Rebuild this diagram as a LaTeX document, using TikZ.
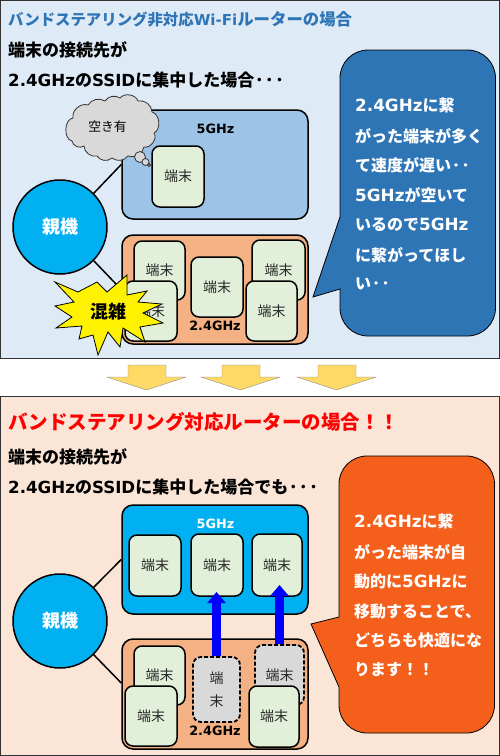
\documentclass[tikz,border=0pt]{standalone}
\usepackage{fontspec}
\setmainfont{Noto Sans CJK JP}
\newfontfamily\latf{DejaVu Sans}[Scale=1.05]
\newfontfamily\latg{DejaVu Sans}[Scale=0.98]
\newcommand{\Lt}[1]{{\latf\bfseries #1}}
\newcommand{\Ls}[1]{{\latg\bfseries #1}}
\newcommand{\fs}[1]{\fontsize{#1}{#1}\selectfont}
\newcommand{\dt}{\kern.8pt･\kern.8pt}
\definecolor{panelA}{HTML}{DEEAF6}
\definecolor{panelB}{HTML}{FBE5D6}
\definecolor{boxA}{HTML}{9DC3E6}
\definecolor{boxOr}{HTML}{F4B183}
\definecolor{sky}{HTML}{00B0F0}
\definecolor{termg}{HTML}{E2F0D9}
\definecolor{calloutA}{HTML}{2E75B6}
\definecolor{calloutB}{HTML}{F4601C}
\definecolor{gold}{HTML}{FFD966}
\definecolor{grayf}{HTML}{D9D9D9}
\tikzset{
  panel/.style={draw=black!80,line width=1pt,rectangle,inner sep=0},
  bandbox/.style={draw=black,line width=1.5pt,rounded corners=11pt,inner sep=0,minimum width=186pt,minimum height=109pt},
  term/.style={draw=black,line width=1.5pt,fill=termg,rounded corners=8pt,inner sep=0,font=\fs{14},text=black!85},
  dterm/.style={term,fill=grayf,line width=1.8pt,dash pattern=on 4pt off 2pt},
  parent/.style={circle,draw=black,line width=1.5pt,fill=sky,minimum size=94pt,inner sep=0,text=white,font=\fs{18}\bfseries},
  line1/.style={draw=black,line width=1.5pt},
  head/.style={anchor=west,inner sep=0,font=\fs{15.4}\bfseries},
  body/.style={anchor=west,inner sep=0,font=\fs{17}\bfseries,text=black},
  calltext/.style={anchor=west,inner sep=0,font=\fs{16}\bfseries,text=white},
  bandlabel/.style={inner sep=0,font=\fs{12.2}\bfseries},
  callout/.style={draw=black,line width=.8pt},
  downarrow/.style={draw=black!45,line width=.4pt,fill=gold},
  moveup/.style={draw=blue,line width=8.5pt,-{Triangle[length=11pt,width=18pt]}},
}
\usetikzlibrary{arrows.meta}
\begin{document}
\begin{tikzpicture}[x=1pt,y=-1pt]
\useasboundingbox (0,0) rectangle (500,756);
% panels
\node[panel,fill=panelA,minimum width=499pt,minimum height=358pt] (panelTop) at (250,179) {};
\node[panel,fill=panelB,minimum width=499pt,minimum height=359pt] (panelBot) at (250,576) {};
% top texts
\node[head,text=calloutA] (t1) at (8,19) {バンドステアリング非対応\Ls{Wi-Fi}{\fs{16.4}ルーターの場合}};
\node[body] (t2) at (8,50) {端末の接続先が};
\node[body] (t3) at (8,80) {\Ls{2.4GHz}の\Ls{SSID}に集中した場合\dt\dt\dt};
% top diagram
\node[parent] (parA) at (60,227) {親機};
\node[bandbox,fill=boxA] (b5a) at (215,164.5) {};
\node[bandbox,fill=boxOr] (b24a) at (215,289.5) {};
\draw[line1] (parA.45) -- (b5a.west);
\draw[line1] (parA.-45) -- (b24a.west);
\node[bandlabel,text=black] (l5a) at (215.5,129) {\Lt{5GHz}};
\node[term,minimum width=52pt,minimum height=61pt] (ta0) at (178,176.5) {端末};
\node[bandlabel,text=black] (l24a) at (215,326) {\Lt{2.4GHz}};
\node[term,minimum width=51pt,minimum height=59pt] (ta1) at (159.5,270.5) {端末};
\node[term,minimum width=52pt,minimum height=60pt] (ta3) at (217,287) {端末};
\node[term,minimum width=53pt,minimum height=60pt] (ta4) at (278.5,270) {端末};
\node[term,minimum width=52pt,minimum height=60pt] (ta2) at (151,311) {端末};
\node[term,minimum width=51pt,minimum height=60pt] (ta5) at (271.5,311) {端末};
% cloud
\draw[draw=black!80,line width=.8pt,fill=grayf] (73,118) to[bend left=60] (88,105) to[bend left=45] (105,101) to[bend left=45] (120,98) to[bend left=60] (138,101)
  to[bend left=50] (152,112) to[bend left=70] (154,133) to[bend left=70] (144,147) to[bend left=50] (128,156) to[bend left=45] (112,158) to[bend left=50] (97,156)
  to[bend left=50] (84,146) to[bend left=60] (72,141) to[bend left=80] (73,118) -- cycle;
\draw[draw=black!80,line width=.8pt,fill=grayf] (140,157) circle[radius=5.5pt];
\draw[draw=black!80,line width=.8pt,fill=grayf] (145.5,162) circle[radius=3.5pt];
\draw[draw=black!80,line width=.8pt,fill=grayf] (149,165) circle[radius=1.5pt];
\node[inner sep=0,font=\fs{12.8},text=black] (cloudt) at (107.5,127) {空き有};
% starburst
\draw[draw=black,line width=.8pt,fill=yellow] (55,282) -- (78,292) -- (97,282) -- (107,292) -- (127,275) -- (127,295) -- (147,291) -- (138,302)
 -- (162,304) -- (143,313) -- (163,323) -- (140,327) -- (145,342) -- (123,328) -- (120,347) -- (108,332) -- (98,355) -- (93,335) -- (79,339) -- (82,326)
 -- (56,328) -- (72,317) -- (55,306) -- (74,302) -- cycle;
\node[inner sep=0,font=\fs{18}\bfseries,text=black] (burst) at (108,312) {混雑};
% top callout
\draw[callout,fill=calloutA] (340,217) -- (313,297) -- (340,289) [rounded corners=28pt] -- (340,336) -- (495.5,336) -- (495.5,50) -- (340,50) [sharp corners] -- (340,100) -- cycle;
\node[calltext] (ca1) at (355,105.5) {\Lt{2.4GHz}に繋};
\node[calltext] (ca2) at (355,136.5) {がった端末が多く};
\node[calltext] (ca3) at (355,165.5) {て速度が遅い\dt\dt};
\node[calltext] (ca4) at (355,195) {\Lt{5GHz}が空いて};
\node[calltext] (ca5) at (355,224.5) {いるので\Lt{5GHz}};
\node[calltext] (ca6) at (355,255) {に繋がってほし};
\node[calltext] (ca7) at (355,284) {い\dt\dt};
% down arrows
\draw[downarrow] (128,365) -- (166,365) -- (166,377) -- (186,377) -- (146.5,390) -- (107,377) -- (128,377) -- cycle;
\draw[downarrow] (222,365) -- (260,365) -- (260,377) -- (280,377) -- (240.5,390) -- (201,377) -- (222,377) -- cycle;
\draw[downarrow] (318,365) -- (356,365) -- (356,377) -- (376,377) -- (336.5,390) -- (297,377) -- (318,377) -- cycle;
% bottom texts
\node[head,text=red,font=\fs{19.5}\bfseries] (u1) at (8,422) {バンドステアリング対応ルーターの場合！！};
\node[body] (u2) at (8,457) {端末の接続先が};
\node[body] (u3) at (8,487) {\Ls{2.4GHz}の\Ls{SSID}に集中した場合でも\dt\dt\dt};
% bottom diagram
\node[parent] (parB) at (60,621) {親機};
\node[bandbox,fill=sky] (b5b) at (215,559.5) {};
\node[bandbox,fill=boxOr,minimum height=110pt] (b24b) at (215,694) {};
\draw[line1] (parB.45) -- (b5b.west);
\draw[line1] (parB.-45) -- ([yshift=11pt]b24b.west);
\node[bandlabel,text=white] (l5b) at (215.5,524) {\Lt{5GHz}};
\node[term,minimum width=52pt,minimum height=61pt] (tb0) at (155,565.5) {端末};
\node[term,minimum width=52pt,minimum height=62pt] (tb1) at (217,565) {端末};
\node[term,minimum width=50pt,minimum height=62pt] (tb2) at (277,565) {端末};
\node[bandlabel,text=black] (l24b) at (215,731) {\Lt{2.4GHz}};
\node[term,minimum width=51pt,minimum height=59pt] (tb3) at (159.5,675.5) {端末};
\node[dterm,minimum width=47pt,minimum height=65pt,align=center,font=\fs{14}] (tb5) at (216.5,689.5) {端\\[9pt]末};
\node[dterm,minimum width=49pt,minimum height=60pt] (tb6) at (279.5,675) {端末};
\node[term,minimum width=52pt,minimum height=60pt] (tb4) at (151,716) {端末};
\node[term,minimum width=50pt,minimum height=61pt] (tb7) at (274,716.5) {端末};
\coordinate (tipA) at (216.5,592);
\coordinate (tipB) at (279.5,585);
\draw[moveup] (tb5.north) -- (tipA);
\draw[moveup] (tb6.north) -- (tipB);
% bottom callout
\draw[callout,fill=calloutB] (339,617) -- (311,624) -- (339,687) [rounded corners=28pt] -- (339,733) -- (494.5,733) -- (494.5,456) -- (339,456) [sharp corners] -- (339,500) -- cycle;
\node[calltext] (cb1) at (354,521) {\Lt{2.4GHz}に繋};
\node[calltext] (cb2) at (354,552) {がった端末が自};
\node[calltext] (cb3) at (354,581) {動的に\Lt{5GHz}に};
\node[calltext] (cb4) at (354,611) {移動することで、};
\node[calltext] (cb5) at (354,640) {どちらも快適にな};
\node[calltext] (cb6) at (354,670) {ります！！};
\end{tikzpicture}
\end{document}
